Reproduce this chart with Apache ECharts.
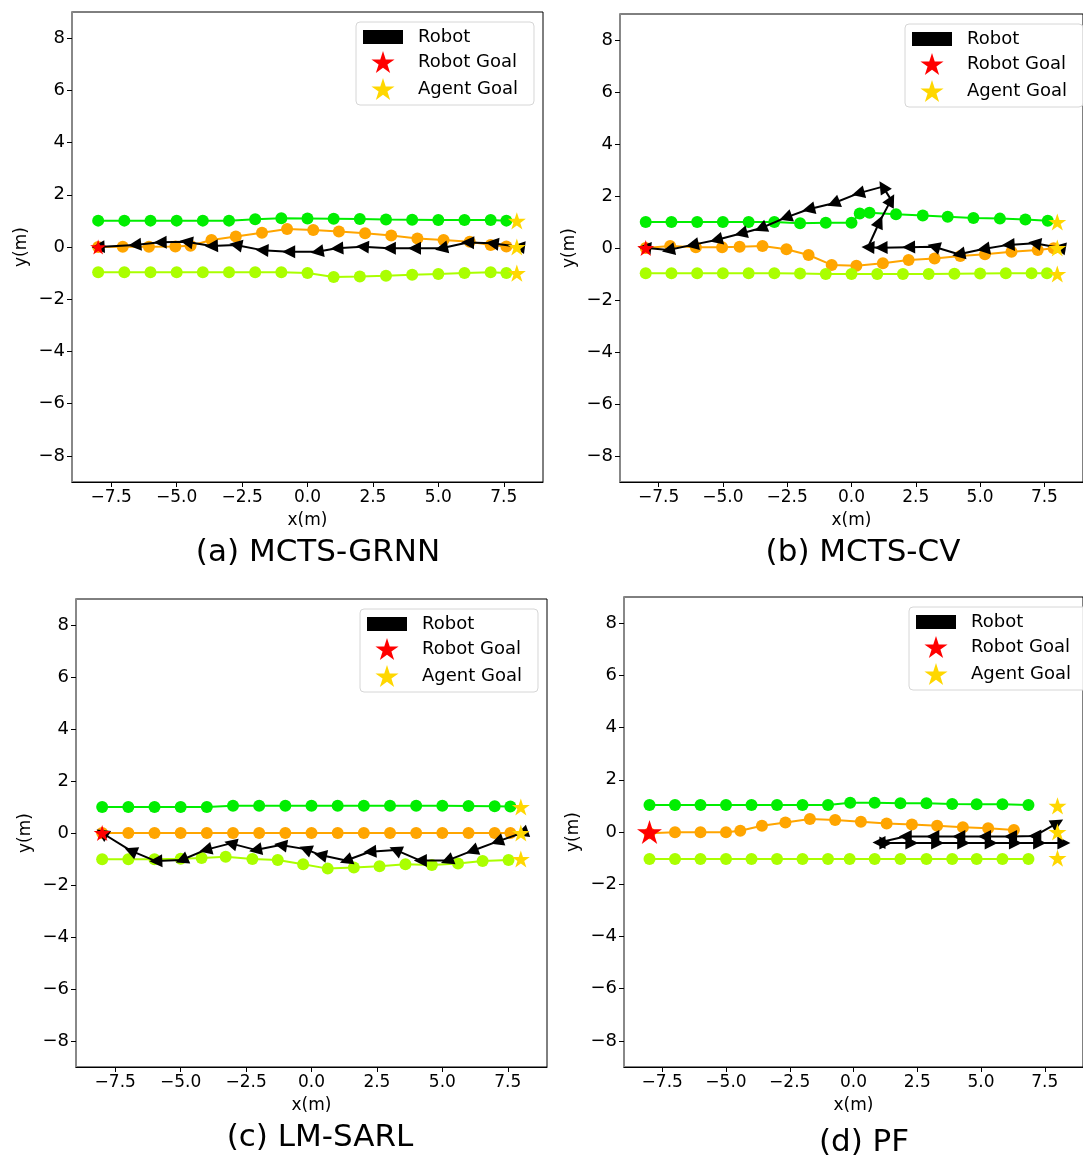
<!DOCTYPE html>
<html>
<head>
<meta charset="utf-8">
<script src="https://cdn.jsdelivr.net/npm/echarts@6/dist/echarts.min.js"></script>
<style>
html,body{margin:0;padding:0;background:#fff;}
#chart{width:1083px;height:1159px;}
</style>
</head>
<body>
<div id="chart"></div>
<script>
// ---------- tick labels / texts ----------
const xTicks = [-7.5, -5, -2.5, 0, 2.5, 5, 7.5];
const yTicks = [-8, -6, -4, -2, 0, 2, 4, 6, 8];
const panelTitles = ['(a) MCTS-GRNN', '(b) MCTS-CV', '(c) LM-SARL', '(d) PF'];
const legendNames = ['Robot', 'Robot Goal', 'Agent Goal'];
const robotGoal = [[-8, 0]];
const agentGoals = [[8, 1], [8, 0], [8, -1]];

// ---------- (a) MCTS-GRNN ----------
const aGreen = [[-8,1.01],[-7,1.01],[-6,1.01],[-5,1.01],[-4,1.01],[-3,1.01],[-2,1.06],[-1,1.1],[0,1.09],[1,1.08],[2,1.07],[3,1.05],[4,1.04],[5,1.03],[6,1.03],[7,1.03],[7.6,1.01]];
const aOrange = [[-8,0],[-7.06,0.01],[-6.06,0.01],[-5.05,0.02],[-4.47,0.05],[-3.67,0.27],[-2.74,0.4],[-1.74,0.55],[-0.78,0.69],[0.22,0.65],[1.2,0.59],[2.2,0.53],[3.2,0.44],[4.2,0.33],[5.2,0.27],[6.2,0.2],[7.0,0.08],[7.6,0.02]];
const aLime = [[-8,-0.97],[-7,-0.97],[-6,-0.97],[-5,-0.97],[-4,-0.97],[-3,-0.97],[-2,-0.97],[-1,-0.97],[0,-1.0],[1,-1.15],[2,-1.13],[3,-1.1],[4,-1.06],[5,-1.03],[6,-1.0],[7,-0.97],[7.6,-1.0]];
const aRobot = [[8.06,0.01],[7.06,0.14],[6.12,0.17],[5.12,-0.05],[4.09,-0.05],[3.13,-0.05],[2.1,0.01],[1.12,-0.05],[0.37,-0.18],[-0.72,-0.18],[-1.74,-0.12],[-2.74,0.08],[-3.67,0.04],[-4.63,0.2],[-5.63,0.18],[-6.6,0.08],[-8.0,0.0]];

// ---------- (b) MCTS-CV ----------
const bGreen = [[-8,1.0],[-7,1.0],[-6,1.0],[-5,1.0],[-4,1.0],[-3,1.0],[-2,0.95],[-1,0.97],[0,0.97],[0.32,1.33],[0.7,1.36],[1.73,1.3],[2.77,1.25],[3.74,1.2],[4.74,1.15],[5.77,1.13],[6.76,1.1],[7.63,1.05]];
const bOrange = [[-8,0],[-7.05,0.08],[-6.05,0.03],[-5.03,0.03],[-4.35,0.05],[-3.46,0.08],[-2.53,-0.05],[-1.67,-0.27],[-0.77,-0.65],[0.19,-0.68],[1.22,-0.59],[2.22,-0.46],[3.23,-0.4],[4.23,-0.31],[5.19,-0.24],[6.22,-0.14],[7.24,-0.08],[7.86,-0.01]];
const bLime = [[-8,-0.97],[-7,-0.97],[-6,-0.97],[-5,-0.97],[-4,-0.97],[-3,-0.97],[-2,-0.98],[-1,-1.0],[0,-1.0],[1,-1.0],[2,-1.0],[3,-1.0],[4,-0.99],[5,-0.98],[6,-0.97],[7,-0.97],[7.6,-0.97]];
const bRobot = [[8.08,0.01],[7.12,0.18],[6.09,0.12],[5.13,-0.04],[4.17,-0.24],[3.2,0.05],[2.22,0.03],[1.15,0.01],[0.64,0.03],[1.09,1.01],[1.54,1.85],[1.22,2.36],[0.26,2.1],[-0.7,1.72],[-1.67,1.49],[-2.56,1.17],[-3.53,0.76],[-4.3,0.56],[-5.26,0.31],[-6.19,0.12],[-7.12,-0.08],[-8.04,0.01]];

// ---------- (c) LM-SARL ----------
const cGreen = [[-8,1.0],[-7,1.0],[-6,1.0],[-5,1.0],[-4,1.0],[-3,1.05],[-2,1.05],[-1,1.05],[0,1.05],[1,1.05],[2,1.05],[3,1.05],[4,1.05],[5,1.05],[6,1.04],[7,1.03],[7.6,1.02]];
const cOrange = [[-8,0],[-7,0],[-6,0],[-5,0],[-4,0],[-3,0],[-2,0],[-1,0],[0,0],[1,0],[2,0],[3,0],[4,0],[5,0],[6,0],[7,0],[7.6,0]];
const cLime = [[-8,-1.01],[-7,-1.01],[-6,-1.01],[-5,-0.99],[-4.2,-0.96],[-3.28,-0.91],[-2.26,-1.0],[-1.29,-1.04],[-0.32,-1.2],[0.62,-1.37],[1.62,-1.33],[2.6,-1.28],[3.59,-1.2],[4.6,-1.23],[5.6,-1.17],[6.54,-1.08],[7.53,-1.04]];
const cRobot = [[8.04,0],[7.09,-0.33],[6.13,-0.69],[5.18,-1.06],[4.16,-1.06],[3.21,-0.65],[2.23,-0.72],[1.32,-1.06],[0.34,-0.85],[-0.23,-0.62],[-1.18,-0.46],[-2.14,-0.65],[-3.09,-0.4],[-4.05,-0.65],[-4.96,-1.04],[-5.95,-1.08],[-6.91,-0.68],[-8.0,0]];

// ---------- (d) PF ----------
const dGreen = [[-8,1.03],[-7,1.03],[-6,1.03],[-5,1.03],[-4,1.03],[-3,1.03],[-2,1.03],[-1,1.03],[-0.13,1.12],[0.83,1.12],[1.84,1.1],[2.86,1.1],[3.87,1.07],[4.83,1.06],[5.84,1.06],[6.86,1.03]];
const dOrange = [[-8,-0.05],[-7,-0.01],[-6,-0.01],[-5,-0.01],[-4.44,0.05],[-3.59,0.24],[-2.67,0.36],[-1.71,0.5],[-0.72,0.46],[0.29,0.39],[1.3,0.33],[2.29,0.29],[3.28,0.24],[4.29,0.18],[5.28,0.14],[6.29,0.08]];
const dLime = [[-8,-1.03],[-7,-1.03],[-6,-1.03],[-5,-1.03],[-4,-1.03],[-3,-1.03],[-2,-1.03],[-1,-1.03],[-0.15,-1.03],[0.83,-1.03],[1.84,-1.03],[2.86,-1.03],[3.87,-1.03],[4.83,-1.03],[5.84,-1.03],[6.86,-1.03]];
const dRobot = [[8.0,0.35],[7.11,-0.15],[6.16,-0.17],[5.14,-0.17],[4.13,-0.17],[3.11,-0.17],[2.03,-0.17],[1.0,-0.4],[1.27,-0.42],[2.29,-0.42],[3.3,-0.42],[4.32,-0.42],[5.4,-0.42],[6.35,-0.42],[7.3,-0.42],[8.25,-0.42]];
const dRobotHeading = [30,180,180,180,180,180,180,180,0,0,0,0,0,0,0,0];

// ---------- styling ----------
const FONT = 'DejaVu Sans';
const GREEN = '#00ee00', ORANGE = '#ffa500', LIME = '#aaff00', GOLD = '#ffd700', RED = '#ff0000';
const STAR = 'path://M0,-10L2.245,-3.09L9.51,-3.09L3.633,1.18L5.878,8.09L0,3.82L-5.878,8.09L-3.633,1.18L-9.51,-3.09L-2.245,-3.09Z';
const RECT = 'path://M0,0H40V14H0Z';

const panels = [
  {green:aGreen, orange:aOrange, lime:aLime, robot:aRobot, heading:null, goalSize:16,
   grid:{left:72, top:12, width:471, height:470}, legend:{left:356, top:22},
   title:{x:318, y:553}},
  {green:bGreen, orange:bOrange, lime:bLime, robot:bRobot, heading:null, goalSize:17,
   grid:{left:620, top:14, width:470, height:468}, legend:{left:905, top:24},
   title:{x:863, y:553}},
  {green:cGreen, orange:cOrange, lime:cLime, robot:cRobot, heading:null, goalSize:17,
   grid:{left:76, top:599, width:471, height:468}, legend:{left:360, top:609},
   title:{x:320, y:1138}},
  {green:dGreen, orange:dOrange, lime:dLime, robot:dRobot, heading:dRobotHeading, goalSize:25,
   grid:{left:624, top:597, width:472, height:470}, legend:{left:909, top:607},
   title:{x:864, y:1143}}
];

function headingsFromPath(p) {
  return p.map((pt, i) => {
    const a = i > 0 ? p[i - 1] : p[0];
    const b = i > 0 ? pt : p[1];
    return Math.atan2(b[1] - a[1], b[0] - a[0]) * 180 / Math.PI;
  });
}
function fmtX(v) { return (v < 0 ? '\u2212' : '') + Math.abs(v).toFixed(1); }
function fmtY(v) { return (v < 0 ? '\u2212' : '') + Math.abs(v).toFixed(0); }

const option = {
  animation: false,
  backgroundColor: '#fff',
  textStyle: {fontFamily: FONT},
  grid: [], xAxis: [], yAxis: [], series: [], legend: [], graphic: []
};

panels.forEach((P, i) => {
  option.grid.push(Object.assign({show: true, borderColor: '#000', borderWidth: 1, backgroundColor: '#fff'}, P.grid));
  option.xAxis.push({
    gridIndex: i, type: 'value', min: -9, max: 9,
    name: 'x(m)', nameLocation: 'middle', nameGap: 30,
    nameTextStyle: {fontSize: 17, color: '#000', fontFamily: FONT},
    axisLine: {show: true, onZero: false, lineStyle: {color: '#000', width: 1}},
    axisTick: {show: true, customValues: xTicks, length: 5, lineStyle: {color: '#000'}},
    axisLabel: {customValues: xTicks, formatter: fmtX, fontSize: 17, color: '#000', margin: 7, fontFamily: FONT},
    splitLine: {show: false}
  });
  option.yAxis.push({
    gridIndex: i, type: 'value', min: -9, max: 9,
    name: 'y(m)', nameLocation: 'middle', nameGap: 42,
    nameTextStyle: {fontSize: 17, color: '#000', fontFamily: FONT},
    axisLine: {show: true, onZero: false, lineStyle: {color: '#888', width: 2}},
    axisTick: {show: true, customValues: yTicks, length: 5, lineStyle: {color: '#000'}},
    axisLabel: {customValues: yTicks, formatter: fmtY, fontSize: 18, color: '#000', margin: 7, fontFamily: FONT},
    splitLine: {show: false}
  });
  const agent = (data, color, name) => ({
    name: name, type: 'line', xAxisIndex: i, yAxisIndex: i, data: data,
    symbol: 'circle', symbolSize: 12, showSymbol: true,
    itemStyle: {color: color, opacity: 1}, lineStyle: {color: color, width: 2}, z: 2, silent: true
  });
  option.series.push(agent(P.green, GREEN, 'agent1'));
  option.series.push(agent(P.orange, ORANGE, 'agent2'));
  option.series.push(agent(P.lime, LIME, 'agent3'));
  const hd = P.heading || headingsFromPath(P.robot);
  option.series.push({
    name: 'Robot', type: 'line', xAxisIndex: i, yAxisIndex: i,
    data: P.robot.map((p, k) => ({value: p, symbolRotate: hd[k] - 90})),
    symbol: 'triangle', symbolSize: 13, showSymbol: true,
    itemStyle: {color: '#000', opacity: 1}, lineStyle: {color: '#000', width: 2}, z: 3, silent: true
  });
  option.series.push({
    name: 'Robot Goal', type: 'scatter', xAxisIndex: i, yAxisIndex: i, data: robotGoal,
    symbol: STAR, symbolSize: P.goalSize, symbolKeepAspect: true,
    itemStyle: {color: RED, opacity: 1}, z: 5, silent: true
  });
  option.series.push({
    name: 'Agent Goal', type: 'scatter', xAxisIndex: i, yAxisIndex: i, data: agentGoals,
    symbol: STAR, symbolSize: 18, symbolKeepAspect: true,
    itemStyle: {color: GOLD, opacity: 1}, z: 5, silent: true
  });
  option.legend.push({
    left: P.legend.left, top: P.legend.top, orient: 'vertical',
    padding: [6, 16, 5, 7], itemWidth: 40, itemHeight: 22, itemGap: 5,
    backgroundColor: 'rgba(255,255,255,0.85)', borderColor: '#d6d6d6', borderWidth: 1, borderRadius: 4,
    selectedMode: false,
    textStyle: {fontSize: 18, color: '#000', fontFamily: FONT, padding: [0, 0, 0, 10]},
    data: [
      {name: legendNames[0], icon: RECT, itemStyle: {color: '#000', opacity: 1}},
      {name: legendNames[1], icon: STAR, itemStyle: {color: RED, opacity: 1}},
      {name: legendNames[2], icon: STAR, itemStyle: {color: GOLD, opacity: 1}}
    ]
  });
  option.graphic.push({
    type: 'text', x: P.title.x, y: P.title.y, silent: true,
    style: {text: panelTitles[i], fontSize: 31, fontFamily: FONT, fill: '#000', align: 'center', verticalAlign: 'middle'}
  });
});

const chart = echarts.init(document.getElementById('chart'), null, {renderer: 'canvas'});
chart.setOption(option);
</script>
</body>
</html>
